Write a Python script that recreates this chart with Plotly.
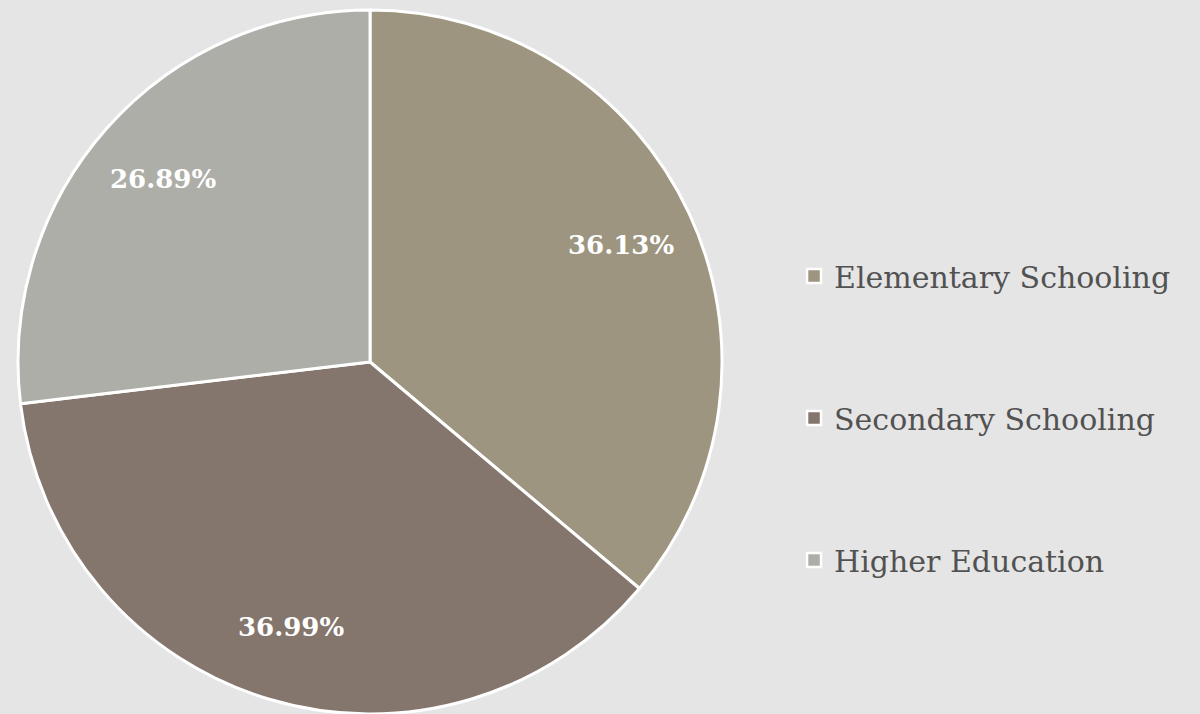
import math
import plotly.graph_objects as go

categories = ["Elementary Schooling", "Secondary Schooling", "Higher Education"]
values = [36.13, 36.99, 26.89]
colors = ["#9D957F", "#85766D", "#AEAEA8"]

W, H = 1200, 714
dom_x = [0.015, 0.6017]
dom_y = [0.0, 0.986]

fig = go.Figure()
fig.add_trace(go.Pie(
    labels=categories, values=values, sort=False, direction="clockwise", rotation=0,
    marker=dict(colors=colors, line=dict(color="white", width=3)),
    textinfo="none",
    domain=dict(x=dom_x, y=dom_y),
    showlegend=False, hoverinfo="label+percent",
))

# percentage labels placed along each slice's mid-angle
total = sum(values)
cx = (dom_x[0] + dom_x[1]) / 2 * W
cy = (1 - (dom_y[0] + dom_y[1]) / 2) * H
R = min((dom_x[1] - dom_x[0]) * W, (dom_y[1] - dom_y[0]) * H) / 2
cum = 0.0
for v in values:
    mid = (cum + v / 2) / total * 2 * math.pi
    cum += v
    px = cx + 0.785 * R * math.sin(mid)
    py = cy - 0.785 * R * math.cos(mid)
    fig.add_annotation(
        x=px / W, y=1 - py / H, xref="paper", yref="paper", showarrow=False,
        xanchor="center", yanchor="middle",
        text=f"<b>{v / total * 100:.2f}%</b>",
        font=dict(family="DejaVu Serif", size=26, color="white"),
    )

for i, (c, col) in enumerate(zip(categories, colors)):
    fig.add_trace(go.Scatter(
        x=[None], y=[None], mode="markers", name=c, legendgroup=f"g{i}",
        marker=dict(symbol="square", size=14, color=col, line=dict(color="white", width=2.5)),
    ))

fig.update_layout(
    width=W, height=H,
    margin=dict(l=0, r=0, t=0, b=0),
    paper_bgcolor="#e5e5e5", plot_bgcolor="rgba(0,0,0,0)",
    xaxis=dict(visible=False), yaxis=dict(visible=False),
    legend=dict(x=0.6617, y=1 - 418 / H, xanchor="left", yanchor="middle",
                font=dict(family="DejaVu Serif", size=30, color="#525252"),
                tracegroupgap=100, itemwidth=30, bgcolor="rgba(0,0,0,0)"),
)
fig.write_html("out.html", config={"displayModeBar": False},
               post_script="document.body.style.margin='0';document.body.style.background='#e5e5e5';")
